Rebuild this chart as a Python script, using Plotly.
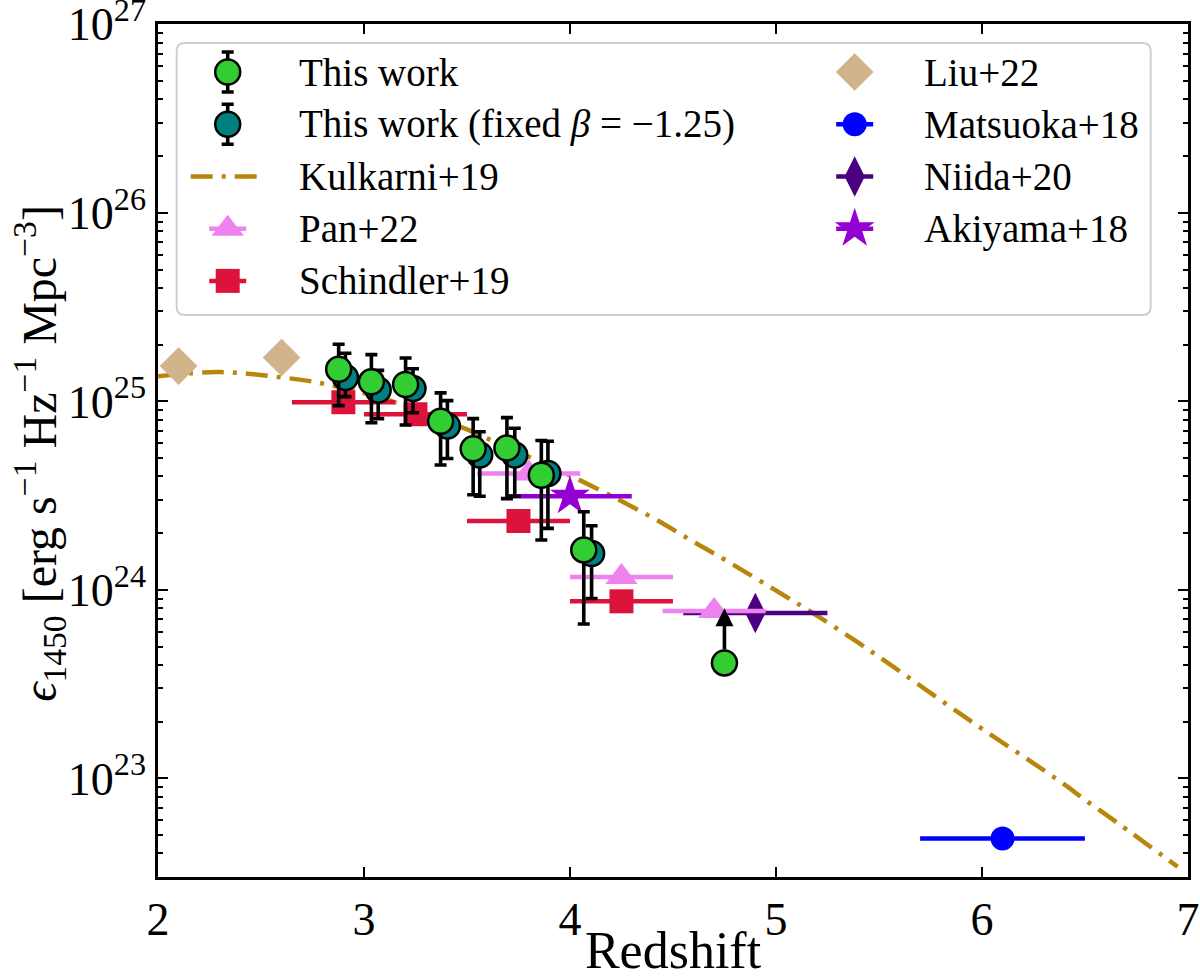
import numpy as np
import plotly.graph_objects as go

# ---- data ----
# This work (free beta)
z_work = [2.877, 3.036, 3.202, 3.372, 3.530, 3.694, 3.861, 4.067]
eps_work = [1.48e25, 1.27e25, 1.23e25, 7.85e24, 5.6e24, 5.66e24, 4.06e24, 1.63e24]
eps_work_hi = [2.01e25, 1.77e25, 1.70e25, 1.11e25, 8.1e24, 8.2e24, 6.2e24, 2.6e24]
eps_work_lo = [9.5e24, 7.7e24, 7.5e24, 4.6e24, 3.2e24, 3.05e24, 1.84e24, 6.6e23]

# This work (fixed beta = -1.25)
z_fixed = [2.910, 3.069, 3.238, 3.405, 3.562, 3.732, 3.893, 4.105]
eps_fixed = [1.34e25, 1.15e25, 1.17e25, 7.4e24, 5.2e24, 5.2e24, 4.15e24, 1.56e24]
eps_fixed_hi = [1.80e25, 1.46e25, 1.49e25, 1.01e25, 6.9e24, 7.2e24, 6.15e24, 2.19e24]
eps_fixed_lo = [1.06e25, 8.1e24, 8.7e24, 4.98e24, 3.14e24, 3.14e24, 2.12e24, 9.0e23]

# This work, lower limit
z_lim = [4.75]
eps_lim = [4.1e23]
eps_lim_tip = [8.0e23]

# Kulkarni+19 model curve
z_kulk = [2.0, 2.3, 2.6, 2.8, 3.1, 3.5, 3.65, 4.0, 4.4, 4.6, 4.75, 5.05, 5.15,
          5.4, 5.55, 5.95, 6.4, 6.5, 6.65, 6.95]
eps_kulk = [1.36e25, 1.43e25, 1.34e25, 1.245e25, 1.03e25, 7.1e24, 6.0e24, 4.05e24,
            2.42e24, 1.8e24, 1.45e24, 9.2e23, 7.9e23, 5.25e23, 4.05e23, 2.0e23,
            9.3e22, 7.7e22, 5.9e22, 3.4e22]

# Pan+22
z_pan = [3.8, 4.25, 4.7]
zerr_pan = [0.25, 0.25, 0.25]
eps_pan = [4.15e24, 1.17e24, 7.74e23]

# Schindler+19
z_sch = [2.9, 3.25, 3.75, 4.25]
zerr_sch = [0.25, 0.25, 0.25, 0.25]
eps_sch = [9.9e24, 8.55e24, 2.32e24, 8.7e23]

# Liu+22
z_liu = [2.1, 2.6]
eps_liu = [1.54e25, 1.71e25]

# Matsuoka+18
z_mat = [6.1]
zerr_mat = [0.4]
eps_mat = [4.8e22]

# Niida+20
z_nii = [4.9]
zerr_nii = [0.35]
eps_nii = [7.55e23]

# Akiyama+18
z_aki = [4.0]
zerr_aki = [0.3]
eps_aki = [3.14e24]

# ---- colours ----
GREEN = '#32CD32'
TEAL = '#008080'
KULK = '#B8860B'
PAN = '#EE82EE'
SCH = '#DC143C'
LIU = '#D2B48C'
MAT = '#0000FF'
NII = '#4B0082'
AKI = '#9400D3'

FONT = 'Liberation Serif'
KDASH = '22px,9px,4px,9px'

# plot area in pixels (used only for the hand-made legend / labels)
L, R, T, B = 158.3, 1188.3, 24.0, 876.7


def px_x(px):
    return (px - L) / (R - L)


def px_y(py):
    return (B - py) / (B - T)


def up(v, hi):
    return [h - x for x, h in zip(v, hi)]


def down(v, lo):
    return [x - l for x, l in zip(v, lo)]


# marker styles shared by the data and the legend
MK_WORK = dict(symbol='circle', size=25, color=GREEN, line=dict(color='black', width=2.5))
MK_FIXED = dict(symbol='circle', size=25, color=TEAL, line=dict(color='black', width=2.5))
MK_PAN = dict(symbol='triangle-up', size=28, color=PAN)
MK_SCH = dict(symbol='square', size=24, color=SCH)
MK_LIU = dict(symbol='diamond', size=29, color=LIU)
MK_MAT = dict(symbol='circle', size=24, color=MAT)
MK_NII = dict(symbol='diamond-tall', size=29, color=NII)
MK_AKI = dict(symbol='star', size=30, color=AKI)

fig = go.Figure()

fig.add_trace(go.Scatter(x=z_kulk, y=eps_kulk, mode='lines', name='Kulkarni+19',
                         line=dict(color=KULK, width=4.5, dash=KDASH, shape='spline'),
                         showlegend=False))

fig.add_trace(go.Scatter(x=z_liu, y=eps_liu, mode='markers', name='Liu+22',
                         marker=MK_LIU, showlegend=False))

for zz, zerr, ee, mk, name in [
        (z_mat, zerr_mat, eps_mat, MK_MAT, 'Matsuoka+18'),
        (z_nii, zerr_nii, eps_nii, MK_NII, 'Niida+20'),
        (z_aki, zerr_aki, eps_aki, MK_AKI, 'Akiyama+18'),
        (z_pan, zerr_pan, eps_pan, MK_PAN, 'Pan+22'),
        (z_sch, zerr_sch, eps_sch, MK_SCH, 'Schindler+19')]:
    fig.add_trace(go.Scatter(x=zz, y=ee, mode='markers', name=name, marker=mk,
                             error_x=dict(type='data', array=zerr, color=mk['color'],
                                          thickness=4.5, width=0),
                             showlegend=False))

fig.add_trace(go.Scatter(x=z_fixed, y=eps_fixed, mode='markers',
                         name='This work (fixed beta)', marker=MK_FIXED,
                         error_y=dict(type='data', array=up(eps_fixed, eps_fixed_hi),
                                      arrayminus=down(eps_fixed, eps_fixed_lo),
                                      color='black', thickness=3.6, width=6),
                         showlegend=False))

fig.add_trace(go.Scatter(x=z_work, y=eps_work, mode='markers', name='This work',
                         marker=MK_WORK,
                         error_y=dict(type='data', array=up(eps_work, eps_work_hi),
                                      arrayminus=down(eps_work, eps_work_lo),
                                      color='black', thickness=3.6, width=6),
                         showlegend=False))

fig.add_trace(go.Scatter(x=z_lim, y=eps_lim, mode='markers', name='This work (limit)',
                         marker=MK_WORK, showlegend=False))

annotations = []
for zz, lo, tip in zip(z_lim, eps_lim, eps_lim_tip):
    annotations.append(dict(x=zz, y=np.log10(tip), ax=zz, ay=np.log10(lo),
                            xref='x', yref='y', axref='x', ayref='y',
                            text='', showarrow=True, arrowhead=2, arrowsize=1,
                            arrowwidth=3.6, arrowcolor='black', startstandoff=12))

# ---- hand-made two-column legend (matplotlib style) ----
row_y = [72, 124.2, 176.4, 228.6, 280.8]
c1_mark, c1_text = 228, 297
c2_mark, c2_text = 855, 922
xbar = 18.5 / (R - L)
ybar = 20 / (B - T)

legend_items = [
    (c1_mark, c1_text, 0, 'This work', MK_WORK, 'v'),
    (c1_mark, c1_text, 1, 'This work (fixed <i>β</i> = −1.25)', MK_FIXED, 'v'),
    (c1_mark, c1_text, 2, 'Kulkarni+19', None, 'line'),
    (c1_mark, c1_text, 3, 'Pan+22', MK_PAN, 'h'),
    (c1_mark, c1_text, 4, 'Schindler+19', MK_SCH, 'h'),
    (c2_mark, c2_text, 0, 'Liu+22', MK_LIU, None),
    (c2_mark, c2_text, 1, 'Matsuoka+18', MK_MAT, 'h'),
    (c2_mark, c2_text, 2, 'Niida+20', MK_NII, 'h'),
    (c2_mark, c2_text, 3, 'Akiyama+18', MK_AKI, 'h'),
]

for mx, tx, row, label, mk, bar in legend_items:
    yy = px_y(row_y[row])
    if bar == 'line':
        fig.add_trace(go.Scatter(x=[px_x(mx - 37), px_x(mx + 38)], y=[yy, yy],
                                 mode='lines', xaxis='x2', yaxis='y2',
                                 line=dict(color=KULK, width=4.5, dash=KDASH),
                                 showlegend=False, hoverinfo='skip'))
    else:
        kw = {}
        if bar == 'v':
            kw['error_y'] = dict(type='constant', value=ybar, color='black',
                                 thickness=3.6, width=6)
        elif bar == 'h':
            kw['error_x'] = dict(type='constant', value=xbar, color=mk['color'],
                                 thickness=4.5, width=0)
        fig.add_trace(go.Scatter(x=[px_x(mx)], y=[yy], mode='markers',
                                 xaxis='x2', yaxis='y2', marker=mk,
                                 showlegend=False, hoverinfo='skip', **kw))
    annotations.append(dict(x=px_x(tx), y=yy, xref='paper', yref='paper',
                            text=label, showarrow=False, xanchor='left',
                            yanchor='middle', font=dict(family=FONT, size=39,
                                                        color='black')))

# y-axis label, placed like the matplotlib one
annotations.append(dict(x=px_x(39), y=px_y(453), xref='paper', yref='paper',
                        text='<i>ϵ</i><sub>1450</sub> [erg s<sup>−1</sup> Hz<sup>−1</sup> '
                             'Mpc<sup>−3</sup>]',
                        textangle=-90, showarrow=False, xanchor='center', yanchor='middle',
                        font=dict(family=FONT, size=48, color='black')))

# legend frame with rounded corners
x0, x1 = px_x(177), px_x(1151)
yT, yB = px_y(43), px_y(315)
rx, ry = 8 / (R - L), 8 / (B - T)
frame = (f"M {x0 + rx},{yT} L {x1 - rx},{yT} Q {x1},{yT} {x1},{yT - ry} "
         f"L {x1},{yB + ry} Q {x1},{yB} {x1 - rx},{yB} L {x0 + rx},{yB} "
         f"Q {x0},{yB} {x0},{yB + ry} L {x0},{yT - ry} Q {x0},{yT} {x0 + rx},{yT} Z")

major = [1e23, 1e24, 1e25, 1e26, 1e27]
minor = [m * 10.0 ** k for k in range(22, 27) for m in range(2, 10)]

axis_common = dict(showline=True, linecolor='black', linewidth=2.5, mirror='ticks',
                   ticks='inside', ticklen=10, tickwidth=2, tickcolor='black',
                   showgrid=False, zeroline=False, automargin=False,
                   ticklabeloverflow='allow',
                   tickfont=dict(family=FONT, size=46, color='black'))

fig.update_layout(
    width=1200, height=979,
    margin=dict(l=L, r=1200 - R, t=T, b=979 - B, autoexpand=False),
    paper_bgcolor='white', plot_bgcolor='white',
    showlegend=False,
    font=dict(family=FONT, color='black'),
    xaxis=dict(range=[2, 7.0005], tickmode='array', tickvals=[2, 3, 4, 5, 6, 7],
               title=dict(text='Redshift', font=dict(family=FONT, size=52), standoff=4),
               **axis_common),
    yaxis=dict(type='log', range=[np.log10(3.0e22), 27.002], tickmode='array',
               tickvals=major, ticktext=[f'10<sup>{int(np.log10(v))}</sup>' for v in major],
               minor=dict(tickmode='array', tickvals=minor, ticks='inside', ticklen=5,
                          tickwidth=1.5, tickcolor='black', showgrid=False),
               **axis_common),
    xaxis2=dict(overlaying='x', anchor='y2', range=[0, 1], visible=False),
    yaxis2=dict(overlaying='y', anchor='x2', range=[0, 1], visible=False),
    shapes=[dict(type='path', path=frame, xref='paper', yref='paper',
                 line=dict(color='#d0d0d0', width=2), fillcolor='white', layer='below')],
    annotations=annotations,
)

fig.write_html("out.html", config={'displayModeBar': False},
               post_script="document.body.style.margin='0';")
